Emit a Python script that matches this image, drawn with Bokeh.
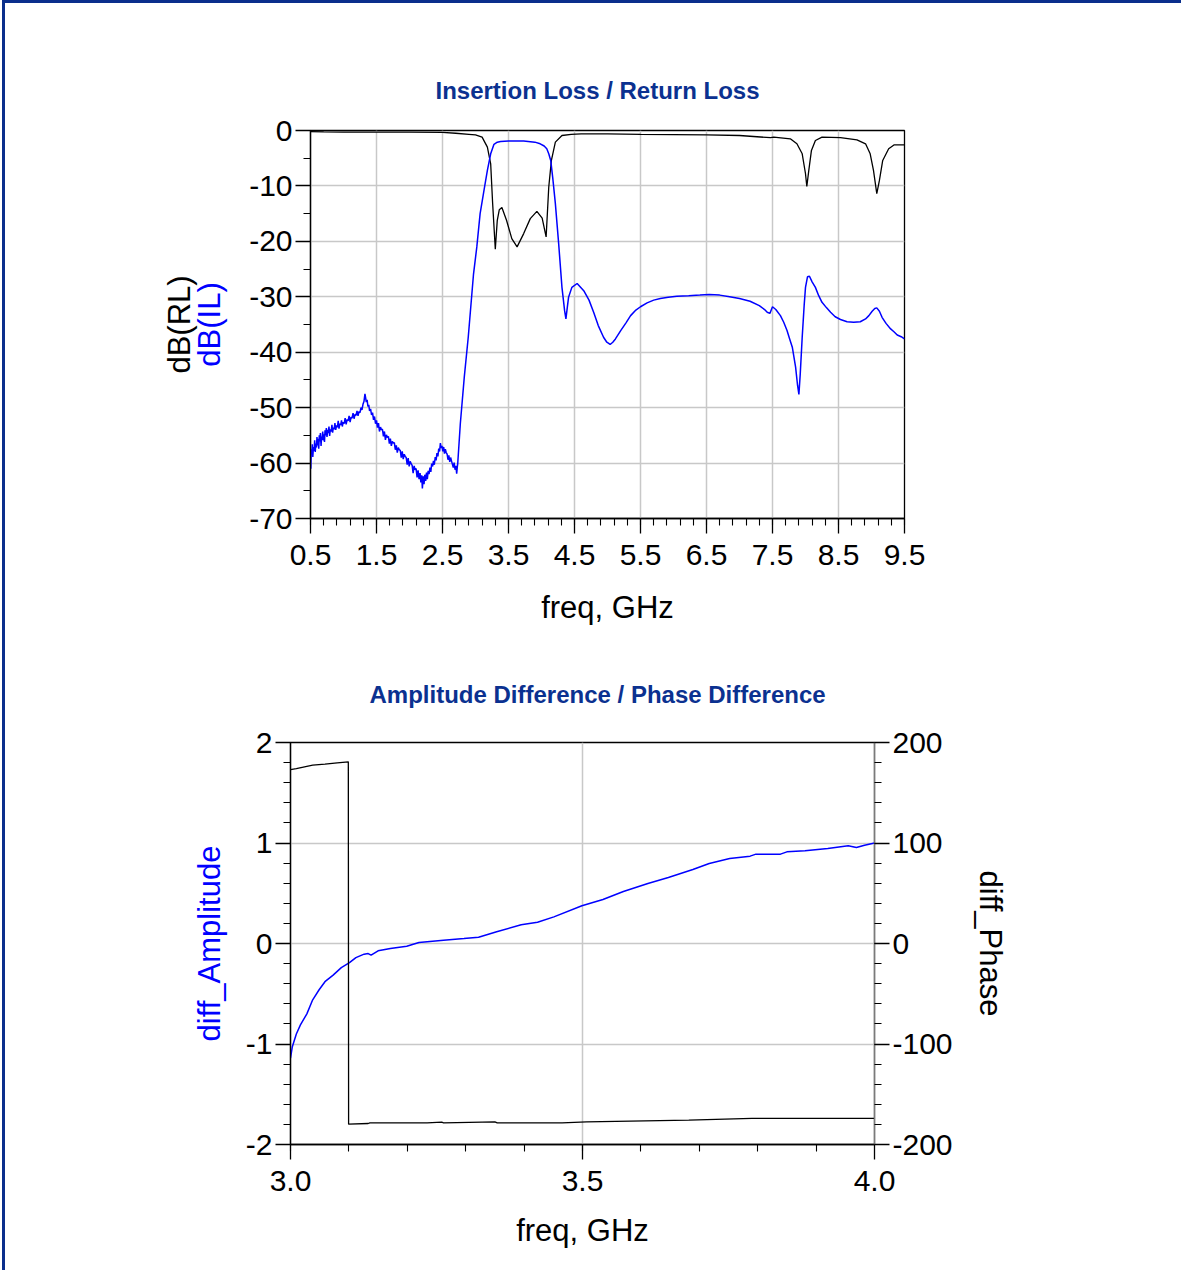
import numpy as np
from bokeh.plotting import figure
from bokeh.models import Range1d, LinearAxis, FixedTicker, CustomJSTickFormatter
from bokeh.layouts import column, row
from bokeh.embed import file_html
from bokeh.resources import INLINE

FONT = "Liberation Sans"
BLUE = "#0000ff"
TITLE_BLUE = "#0b3190"

# ---------------- data: top chart (Insertion Loss / Return Loss) ----------------
rl_freq = [0.5, 0.7, 1.0, 1.5, 2.0, 2.5, 2.7, 2.9, 3.0, 3.1, 3.18, 3.23, 3.26, 3.30,
           3.33, 3.36, 3.40, 3.47, 3.55, 3.63, 3.73, 3.83, 3.93, 4.01, 4.07, 4.11,
           4.15, 4.21, 4.31, 4.45, 4.6, 5.0, 5.5, 6.0, 6.5, 7.0, 7.47, 7.52, 7.77,
           7.87, 7.95, 8.0, 8.02, 8.05, 8.09, 8.15, 8.25, 8.53, 8.78, 8.91, 8.98,
           9.03, 9.08, 9.12, 9.17, 9.26, 9.34, 9.5]
rl_db = [-0.2, -0.25, -0.3, -0.3, -0.3, -0.35, -0.5, -0.7, -0.8, -1.2, -3.0, -6.0,
         -13.2, -21.4, -16.2, -14.3, -13.9, -16.2, -19.5, -21.0, -18.6, -15.9, -14.6,
         -15.8, -19.2, -10.2, -5.4, -2.1, -0.9, -0.7, -0.6, -0.6, -0.7, -0.75, -0.8,
         -0.9, -1.3, -1.2, -1.5, -2.4, -4.2, -7.8, -10.1, -7.2, -3.6, -1.8, -1.2,
         -1.3, -1.7, -2.4, -4.2, -7.2, -11.4, -9.0, -5.4, -3.3, -2.6, -2.6]

il_freq = [0.500, 0.505, 0.512, 0.520, 0.527, 0.535, 0.545, 0.555, 0.563, 0.572,
           0.580, 0.590, 0.598, 0.607, 0.615, 0.625, 0.633, 0.642, 0.650, 0.660,
           0.668, 0.676, 0.685, 0.695, 0.703, 0.712, 0.720, 0.730, 0.740, 0.750,
           0.760, 0.770, 0.780, 0.790, 0.800, 0.812, 0.825, 0.835, 0.845, 0.858,
           0.870, 0.882, 0.895, 0.908, 0.920, 0.932, 0.945, 0.958, 0.970, 0.982,
           0.995, 1.010, 1.025, 1.040, 1.055, 1.070, 1.085, 1.100, 1.115, 1.130,
           1.145, 1.160, 1.175, 1.190, 1.205, 1.220, 1.235, 1.250, 1.265, 1.280,
           1.295, 1.310, 1.325, 1.335, 1.345, 1.358, 1.370, 1.383, 1.395, 1.410,
           1.425, 1.440, 1.455, 1.470, 1.485, 1.500, 1.515, 1.530, 1.545, 1.560,
           1.575, 1.590, 1.605, 1.620, 1.635, 1.650, 1.665, 1.680, 1.695, 1.710,
           1.725, 1.740, 1.755, 1.770, 1.785, 1.800, 1.815, 1.830, 1.845, 1.860,
           1.875, 1.890, 1.905, 1.920, 1.935, 1.950, 1.965, 1.980, 1.995, 2.010,
           2.025, 2.040, 2.055, 2.070, 2.085, 2.100, 2.115, 2.130, 2.145, 2.160,
           2.172, 2.185, 2.195, 2.208, 2.220, 2.232, 2.245, 2.258, 2.270, 2.283,
           2.296, 2.310, 2.323, 2.336, 2.350, 2.363, 2.376, 2.390, 2.403, 2.416,
           2.430, 2.443, 2.456, 2.468, 2.480, 2.492, 2.505, 2.518, 2.530, 2.543,
           2.556, 2.570, 2.583, 2.596, 2.610, 2.623, 2.636, 2.650, 2.663, 2.676,
           2.690, 2.703, 2.715, 2.725, 2.730,
           2.77, 2.83, 2.89, 2.97, 3.02, 3.07, 3.14, 3.18, 3.23, 3.28,
           3.33, 3.38, 3.5, 3.73, 3.9, 3.98, 4.04, 4.08, 4.11, 4.14,
           4.17, 4.21, 4.26, 4.31, 4.35, 4.37, 4.39, 4.41, 4.46, 4.54,
           4.64, 4.72, 4.79, 4.86, 4.94, 4.99, 5.04, 5.08, 5.12, 5.20,
           5.28, 5.35, 5.43, 5.50, 5.60, 5.70, 5.80, 5.92, 6.05, 6.23,
           6.40, 6.54, 6.70, 6.85, 7.00, 7.16, 7.30, 7.38, 7.42, 7.46,
           7.50, 7.55, 7.62, 7.67, 7.72, 7.76, 7.80, 7.85, 7.88, 7.90,
           7.92, 7.95, 7.98, 8.00, 8.03, 8.06, 8.10, 8.15, 8.20, 8.25,
           8.32, 8.38, 8.45, 8.53, 8.63, 8.73, 8.83, 8.91, 8.96, 9.01,
           9.05, 9.08, 9.12, 9.16, 9.22, 9.29, 9.34, 9.39, 9.45, 9.50]
il_db = [-59.5, -61.0, -57.5, -58.3, -56.6, -58.9, -57.1, -57.8, -55.9, -58.0,
         -56.5, -57.2, -55.3, -56.8, -55.6, -57.4, -55.0, -56.1, -54.6, -56.9,
         -55.2, -55.8, -54.3, -55.9, -54.8, -56.2, -54.1, -55.0, -53.7, -55.3,
         -54.0, -54.6, -53.4, -55.1, -53.9, -54.3, -53.1, -54.5, -53.6, -53.9,
         -52.8, -54.0, -53.2, -53.5, -52.4, -53.8, -52.9, -53.1, -52.3, -53.4,
         -52.6, -52.9, -51.9, -53.0, -52.1, -52.4, -51.5, -52.6, -51.7, -51.9,
         -51.0, -52.0, -51.2, -51.4, -50.6, -51.5, -50.7, -50.9, -50.0, -50.4,
         -49.4, -48.9, -47.5, -48.2, -49.0, -48.6, -49.8, -49.5, -50.6, -50.2,
         -51.3, -50.9, -52.2, -51.6, -52.9, -52.3, -53.6, -52.8, -54.3, -53.5,
         -54.0, -53.9, -55.2, -54.3, -55.8, -54.9, -55.4, -55.2, -56.5, -55.6,
         -56.9, -56.1, -56.4, -56.3, -57.6, -56.8, -58.1, -57.2, -57.6, -57.7,
         -59.0, -57.9, -59.3, -58.4, -58.8, -59.0, -60.3, -59.1, -60.6, -59.7,
         -60.1, -60.4, -61.8, -60.5, -61.2, -61.0, -62.6, -61.3, -62.9, -61.8,
         -63.5, -62.2, -64.6, -62.4, -63.8, -62.1, -63.2, -61.7, -62.9, -61.4,
         -62.0, -60.8, -61.6, -60.1, -60.6, -59.6, -60.3, -58.9, -59.5, -58.2,
         -58.8, -57.4, -57.9, -56.4, -57.3, -56.9, -57.9, -57.1, -58.3, -57.5,
         -58.1, -58.4, -59.4, -58.6, -59.8, -59.0, -59.6, -60.2, -60.8, -59.9,
         -61.2, -60.5, -61.9, -60.6, -60.2,
         -52.9, -44.5, -37.3, -25.9, -21.0, -15.0, -10.0, -7.2, -4.2, -2.5,
         -2.1, -1.98, -1.9, -1.9, -2.1, -2.4, -2.8, -3.3, -4.2, -5.4,
         -8.5, -13.2, -20.4, -28.3, -32.5, -34.0, -32.0, -30.1, -28.3, -27.6,
         -28.9, -30.6, -32.8, -35.2, -37.3, -38.2, -38.6, -38.2, -37.6, -36.1,
         -34.7, -33.4, -32.4, -31.8, -31.1, -30.6, -30.3, -30.1, -29.9, -29.8,
         -29.7, -29.6, -29.7, -30.0, -30.3, -30.8, -31.6, -32.3, -32.8, -33.0,
         -31.8, -32.3, -33.4, -34.6, -36.1, -37.6, -39.1, -42.7, -46.0, -47.6,
         -44.0, -37.3, -31.5, -28.3, -26.4, -26.3, -27.3, -28.3, -29.8, -31.0,
         -32.0, -32.8, -33.6, -34.1, -34.5, -34.6, -34.5, -34.0, -33.4, -32.6,
         -32.1, -32.0, -32.6, -33.7, -34.8, -35.8, -36.3, -36.9, -37.2, -37.6]

top_xticks = [0.5, 1.5, 2.5, 3.5, 4.5, 5.5, 6.5, 7.5, 8.5, 9.5]
top_yticks = [-70, -60, -50, -40, -30, -20, -10, 0]

# ---------------- data: bottom chart (Amplitude / Phase Difference) ----------------
amp_freq = [3.0, 3.003, 3.01, 3.017, 3.028, 3.038, 3.049, 3.059, 3.073, 3.087, 3.101,
            3.112, 3.126, 3.133, 3.138, 3.150, 3.171, 3.199, 3.220, 3.262, 3.297,
            3.322, 3.353, 3.395, 3.423, 3.451, 3.499, 3.535, 3.570, 3.612, 3.647,
            3.689, 3.717, 3.752, 3.787, 3.797, 3.839, 3.850, 3.881, 3.920, 3.955,
            3.969, 3.983, 4.0]
amp_val = [-1.14, -1.03, -0.90, -0.81, -0.70, -0.56, -0.46, -0.38, -0.315, -0.24,
           -0.19, -0.14, -0.106, -0.10, -0.116, -0.073, -0.05, -0.027, 0.01, 0.033,
           0.05, 0.063, 0.116, 0.186, 0.212, 0.265, 0.375, 0.438, 0.517, 0.597,
           0.657, 0.736, 0.796, 0.846, 0.869, 0.889, 0.889, 0.912, 0.922, 0.945,
           0.972, 0.955, 0.978, 1.0]

ph_freq = [3.0, 3.01, 3.024, 3.038, 3.059, 3.080, 3.099, 3.0995, 3.133, 3.136, 3.234,
           3.259, 3.262, 3.35, 3.354, 3.465, 3.507, 3.682, 3.79, 4.0]
ph_val = [173.1, 174.0, 175.8, 177.4, 178.4, 179.8, 180.8, -179.8, -179.1, -178.4,
          -178.4, -177.8, -178.4, -177.4, -178.4, -178.4, -177.4, -175.8, -174.1, -174.1]

bot_xticks = [3.0, 3.5, 4.0]
amp_ticks = [-2, -1, 0, 1, 2]
ph_ticks = [-200, -100, 0, 100, 200]


def fmt(digits):
    return CustomJSTickFormatter(code="return tick.toFixed(%d);" % digits)


def style_axis(ax, standoff, line_color="black"):
    ax.major_tick_out = 15
    ax.major_tick_in = 0
    ax.minor_tick_out = 7
    ax.minor_tick_in = 0
    ax.axis_line_color = line_color
    ax.axis_line_width = 1.3
    ax.major_tick_line_color = "black"
    ax.minor_tick_line_color = "black"
    ax.major_tick_line_width = 1.3
    ax.minor_tick_line_width = 1.1
    ax.major_label_text_font = FONT
    ax.major_label_text_font_size = "30px"
    ax.major_label_text_color = "black"
    ax.major_label_standoff = standoff
    ax.axis_label_text_font = FONT
    ax.axis_label_text_font_size = "31px"
    ax.axis_label_text_font_style = "normal"
    ax.axis_label_text_color = "black"


def label_only_axis(text, color, standoff):
    ax = LinearAxis(ticker=FixedTicker(ticks=[]), axis_label=text)
    ax.axis_line_color = None
    ax.major_tick_line_color = None
    ax.minor_tick_line_color = None
    ax.major_tick_out = 0
    ax.minor_tick_out = 0
    ax.major_label_standoff = 0
    ax.major_label_text_font_size = "1px"
    ax.axis_label_text_font = FONT
    ax.axis_label_text_font_size = "31px"
    ax.axis_label_text_font_style = "normal"
    ax.axis_label_text_color = color
    ax.axis_label_standoff = standoff
    return ax


def style_title(p, text, offset, standoff):
    p.title.text = text
    p.title.align = "left"
    p.title.offset = offset
    p.title.standoff = standoff
    p.title.text_font = FONT
    p.title.text_font_size = "24px"
    p.title.text_font_style = "bold"
    p.title.text_color = TITLE_BLUE


# ---------------- top figure ----------------
p1 = figure(frame_width=594, frame_height=388,
            x_range=Range1d(0.5, 9.5), y_range=Range1d(-70, 0),
            min_border_left=305, min_border_right=277, min_border_top=127,
            min_border_bottom=125, output_backend="svg", toolbar_location=None,
            background_fill_color="white", border_fill_color="white")
p1.outline_line_color = "black"
p1.outline_line_width = 1.3
p1.xaxis.ticker = FixedTicker(ticks=top_xticks, minor_ticks=list(np.arange(0.5, 9.51, 0.2)))
p1.yaxis.ticker = FixedTicker(ticks=top_yticks, minor_ticks=list(np.arange(-70, 0.1, 5)))
p1.xaxis.formatter = fmt(1)
p1.yaxis.formatter = fmt(0)
style_axis(p1.xaxis[0], 11)
style_axis(p1.yaxis[0], 3)
p1.xaxis.axis_label = "freq, GHz"
p1.xaxis.axis_label_standoff = 22
p1.yaxis.axis_label = "dB(IL)"
p1.yaxis.axis_label_text_color = BLUE
p1.yaxis.axis_label_standoff = 19
p1.add_layout(label_only_axis("dB(RL)", "black", -7), "left")
style_title(p1, "Insertion Loss / Return Loss", 125, 54)
for g in (p1.xgrid[0], p1.ygrid[0]):
    g.grid_line_color = "#c8c8c8"
    g.grid_line_width = 1.5

p1.line(rl_freq, rl_db, line_color="black", line_width=1.3)
p1.line(il_freq, il_db, line_color=BLUE, line_width=1.5)

# ---------------- bottom figure ----------------
p2 = figure(frame_width=584, frame_height=402,
            x_range=Range1d(3.0, 4.0), y_range=Range1d(-2, 2),
            min_border_left=285, min_border_right=307, min_border_top=99,
            min_border_bottom=126, output_backend="svg", toolbar_location=None,
            background_fill_color="white", border_fill_color="white")
p2.outline_line_color = "black"
p2.outline_line_width = 1.3
p2.extra_y_ranges = {"phase": Range1d(-200, 200)}
p2.xaxis.ticker = FixedTicker(ticks=bot_xticks, minor_ticks=list(np.arange(3.0, 4.01, 0.1)))
p2.yaxis.ticker = FixedTicker(ticks=amp_ticks, minor_ticks=list(np.arange(-2, 2.01, 0.2)))
p2.xaxis.formatter = fmt(1)
p2.yaxis.formatter = fmt(0)
style_axis(p2.xaxis[0], 11)
style_axis(p2.yaxis[0], 3)
p2.xaxis.axis_label = "freq, GHz"
p2.xaxis.axis_label_standoff = 19
p2.yaxis.axis_label = "diff_Amplitude"
p2.yaxis.axis_label_text_color = BLUE
p2.yaxis.axis_label_standoff = 16
ax_r = LinearAxis(y_range_name="phase",
                  ticker=FixedTicker(ticks=ph_ticks, minor_ticks=list(np.arange(-200, 201, 20))),
                  formatter=fmt(0))
style_axis(ax_r, 3, line_color="#7a7a7a")
ax_r.axis_label = "diff_Phase"
ax_r.axis_label_standoff = 17
p2.add_layout(ax_r, "right")
style_title(p2, "Amplitude Difference / Phase Difference", 79, 70)
for g in (p2.xgrid[0], p2.ygrid[0]):
    g.grid_line_color = "#c8c8c8"
    g.grid_line_width = 1.5

p2.line(amp_freq, amp_val, line_color=BLUE, line_width=1.5)
p2.line(ph_freq, ph_val, line_color="black", line_width=1.3, y_range_name="phase")

layout = column(p1, row(p2), styles={"border-left": "3px solid #0a2f8c",
                                     "border-top": "3px solid #0a2f8c",
                                     "margin-left": "2px"})

open("out.html", "w").write(file_html(layout, INLINE))
